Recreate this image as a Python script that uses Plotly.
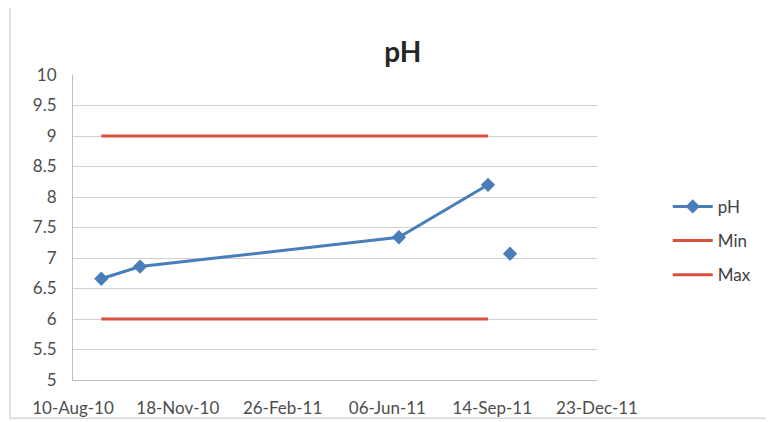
import plotly.graph_objects as go

# sample dates and readings
dates = ["2010-09-06", "2010-10-13", "2011-06-17", "2011-09-10", "2011-09-20", "2011-10-01"]
ph = [6.66, 6.86, 7.34, 8.2, None, 7.07]
ph_min = [6, 6, 6, 6, None, None]
ph_max = [9, 9, 9, 9, None, None]

tick_dates = ["2010-08-10", "2010-11-18", "2011-02-26", "2011-06-06", "2011-09-14", "2011-12-23"]
tick_text = ["10-Aug-10", "18-Nov-10", "26-Feb-11", "06-Jun-11", "14-Sep-11", "23-Dec-11"]

blue = "#4a7ebb"
red = "#d9503f"
font = "Lato, 'Open Sans', sans-serif"

fig = go.Figure()
fig.add_trace(go.Scatter(x=dates, y=ph, name="pH", mode="lines+markers", legendgroup="a",
                         line=dict(color=blue, width=3),
                         marker=dict(symbol="diamond", size=11, color=blue),
                         connectgaps=False))
fig.add_trace(go.Scatter(x=dates, y=ph_min, name="Min", mode="lines", legendgroup="b",
                         line=dict(color=red, width=3)))
fig.add_trace(go.Scatter(x=dates, y=ph_max, name="Max", mode="lines", legendgroup="c",
                         line=dict(color=red, width=3)))

fig.update_layout(
    width=774, height=422,
    margin=dict(l=65, r=185, t=67, b=50),
    paper_bgcolor="white", plot_bgcolor="white",
    font=dict(family=font, size=17, color="#4d4d4d"),
    title=dict(text="<b>pH</b>", x=0.51, xref="container", y=0.895, yanchor="middle",
               font=dict(size=28, color="#262626", family=font)),
    showlegend=True,
    legend=dict(x=1.135, y=0.456, yanchor="middle", xanchor="left",
                font=dict(size=17, color="#404040"), tracegroupgap=9,
                itemwidth=40),
    shapes=[dict(type="rect", xref="paper", yref="paper",
                 x0=-0.12, x1=1.325, y0=-0.125, y1=1.229,
                 line=dict(color="#d9d9d9", width=1.5), layer="below")],
)
fig.update_xaxes(type="date", range=["2010-08-10", "2011-12-23"],
                 tickvals=tick_dates, ticktext=tick_text, automargin=False,
                 showgrid=False, showline=True, linecolor="#bfbfbf",
                 ticks="", zeroline=False, ticklabelstandoff=13)
fig.update_yaxes(range=[5, 10], dtick=0.5, showgrid=True, gridcolor="#d0d0d0",
                 showline=True, linecolor="#bfbfbf", ticks="", zeroline=False,
                 automargin=False, ticklabelstandoff=12)

fig.write_html("out.html")
